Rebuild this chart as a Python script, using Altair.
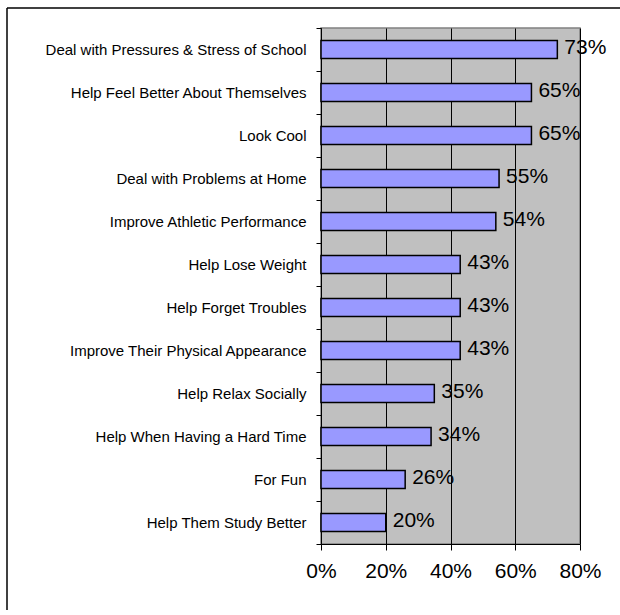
import altair as alt
import pandas as pd

categories = [
    "Deal with Pressures & Stress of School",
    "Help Feel Better About Themselves",
    "Look Cool",
    "Deal with Problems at Home",
    "Improve Athletic Performance",
    "Help Lose Weight",
    "Help Forget Troubles",
    "Improve Their Physical Appearance",
    "Help Relax Socially",
    "Help When Having a Hard Time",
    "For Fun",
    "Help Them Study Better",
]
values = [73, 65, 65, 55, 54, 43, 43, 43, 35, 34, 26, 20]
x_ticks = [0, 20, 40, 60, 80]

df = pd.DataFrame({"cat": categories, "val": values, "lab": [f"{v}%" for v in values]})

FONT = "Liberation Sans"

x = alt.X(
    "val:Q",
    scale=alt.Scale(domain=[0, 80], nice=False, zero=True),
    axis=alt.Axis(
        values=x_ticks,
        labelExpr="datum.value + '%'",
        title=None,
        grid=True,
        gridColor="black",
        gridWidth=1,
        domainColor="black",
        tickColor="black",
        tickSize=6,
        labelFontSize=21,
        labelFont=FONT,
        labelColor="black",
        labelPadding=10,
        labelFlush=False,
    ),
)
y = alt.Y(
    "cat:N",
    sort=categories,
    scale=alt.Scale(paddingInner=0, paddingOuter=0),
    axis=alt.Axis(
        title=None,
        tickBand="extent",
        domainColor="black",
        tickColor="black",
        tickSize=5,
        labelFontSize=15,
        labelFont=FONT,
        labelColor="black",
        labelPadding=10,
        labelLimit=400,
    ),
)

bars = alt.Chart(df).mark_bar(
    size=18, fill="#9999FF", stroke="black", strokeWidth=1.5
).encode(x=x, y=y)

labels = alt.Chart(df).mark_text(
    align="left", baseline="middle", dx=7, dy=-2, fontSize=21, font=FONT, color="black"
).encode(x=alt.X("val:Q"), y=alt.Y("cat:N", sort=categories), text="lab:N")

frame_df = pd.DataFrame({"a": [0]})
border_top = alt.Chart(frame_df).mark_rule(color="black", strokeWidth=1.5).encode(
    x=alt.value(-314), x2=alt.value(400), y=alt.value(-20)
)
border_left = alt.Chart(frame_df).mark_rule(color="black", strokeWidth=1.5).encode(
    x=alt.value(-314), y=alt.value(-20), y2=alt.value(700)
)

chart = alt.layer(bars, labels, border_top, border_left).properties(
    width=259,
    height=516,
    autosize=alt.AutoSizeParams(type="none"),
    padding={"left": 321, "top": 28, "right": 40, "bottom": 66},
    background="white",
).configure_view(fill="#C0C0C0", stroke="#808080", strokeWidth=1.5)

chart.save("out.html", embed_options={"renderer": "svg", "actions": False})
